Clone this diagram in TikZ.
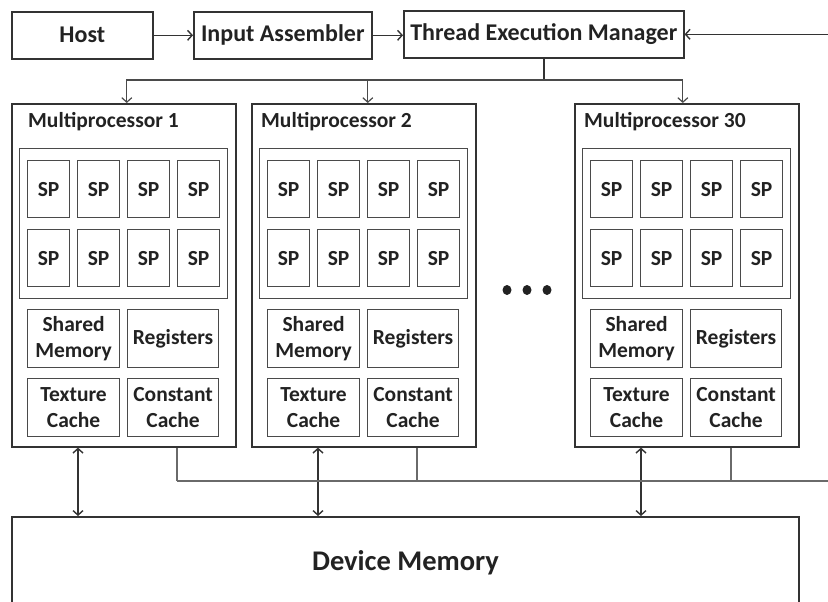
\documentclass[tikz,border=0pt]{standalone}
\usepackage{fontspec}
\setmainfont{Carlito}
\usetikzlibrary{arrows.meta}
\definecolor{ink}{HTML}{222222}
\definecolor{edge}{HTML}{333333}
\definecolor{cellline}{HTML}{4A4A4A}
\definecolor{busline}{HTML}{6A6A6A}
\begin{document}
\begin{tikzpicture}[x=1pt,y=-1pt,
  box/.style={draw=edge,line width=1.6pt,inner sep=0pt,anchor=north west,text=ink},
  topbox/.style={box,minimum height=47pt,font=\fontsize{24}{28}\selectfont\bfseries},
  mpbox/.style={box,minimum width=224pt,minimum height=343pt},
  spframe/.style={box,draw=cellline,line width=1.4pt,minimum width=208pt,minimum height=150pt},
  spcell/.style={box,draw=cellline,line width=1.2pt,minimum width=42pt,minimum height=57pt,
    font=\fontsize{21.5}{26}\selectfont\bfseries},
  membox/.style={box,draw=cellline,line width=1.2pt,minimum width=92pt,minimum height=58pt,
    align=center,font=\fontsize{21.5}{26}\selectfont\bfseries},
  wire/.style={draw=edge,line width=1.4pt},
  thinwire/.style={draw=cellline,line width=1.2pt},
  bus/.style={draw=busline,line width=1.5pt},
  tip/.style={-{Straight Barb[length=4.5pt,width=10pt]}},
  dtip/.style={{Straight Barb[length=4.5pt,width=10pt]}-{Straight Barb[length=4.5pt,width=10pt]}}]
  \clip (0,0) rectangle (828,602);
  % host side
  \node[topbox,minimum width=141pt] (host) at (11,11) {Host};
  \node[topbox,minimum width=178pt] (asm) at (193,11) {Input Assembler};
  \node[topbox,minimum width=280pt] (tem) at (403,10) {Thread Execution Manager};
  \draw[wire,tip] (host.east) -- (host.east -| asm.west);
  \draw[wire,tip] (asm.east) -- (asm.east -| tem.west);
  % device memory, cut off at the bottom
  \node[box,line width=2pt,minimum width=787pt,minimum height=92pt,
    font=\fontsize{28.5}{34}\selectfont\bfseries] (dm) at (11,516) {Device Memory};
  \coordinate (fork) at (542,80);
  \coordinate (busend) at (828,481);
  % multiprocessors
  \foreach \m/\x/\n/\tx/\bx in {mp1/11/1/17/166,mp2/251/2/10/166,mp30/574/30/10/157}{
    \node[mpbox] (\m) at (\x,103) {};
    \node[anchor=west,inner sep=0pt,text=ink,font=\fontsize{21.5}{26}\selectfont\bfseries]
      (\m-title) at (\x+\tx,122) {Multiprocessor \n};
    \node[spframe] (\m-sp) at (\x+8,148) {};
    \foreach \c in {0,...,3}
      \foreach \r in {0,1}
        \node[spcell] (\m-sp\r\c) at (\x+16+50*\c,160+69*\r) {SP};
    \node[membox] (\m-shm) at (\x+16,309) {Shared\\Memory};
    \node[membox,minimum width=91pt] (\m-reg) at (\x+116,309) {Registers};
    \node[membox] (\m-tex) at (\x+16,378) {Texture\\Cache};
    \node[membox,minimum width=91pt] (\m-con) at (\x+116,378) {Constant\\Cache};
    \coordinate (\m-io) at ([xshift=67]\m.south west);
    \coordinate (\m-drop) at ([xshift=\bx]\m.south west);
    \draw[wire,dtip] (\m-io) -- (\m-io |- dm.north);
    \draw[bus] (\m-drop) -- (\m-drop |- busend);
  }
  \foreach \x in {507,527,547}
    \fill[ink] (\x,290) ellipse (4.5 and 5);
  % dispatch from the thread execution manager
  \draw[wire] (tem.south) -- (tem.south |- fork);
  \foreach \m/\dx in {mp1/3,mp2/4,mp30/-4}
    \draw[thinwire,tip] (tem.south |- fork) -| ([xshift=\dx]\m.north);
  % shared bus back to the manager
  \draw[bus] (mp1-drop |- busend) -- (busend);
  \draw[wire,tip] (tem.east -| busend) -- (tem.east);
\end{tikzpicture}
\end{document}
